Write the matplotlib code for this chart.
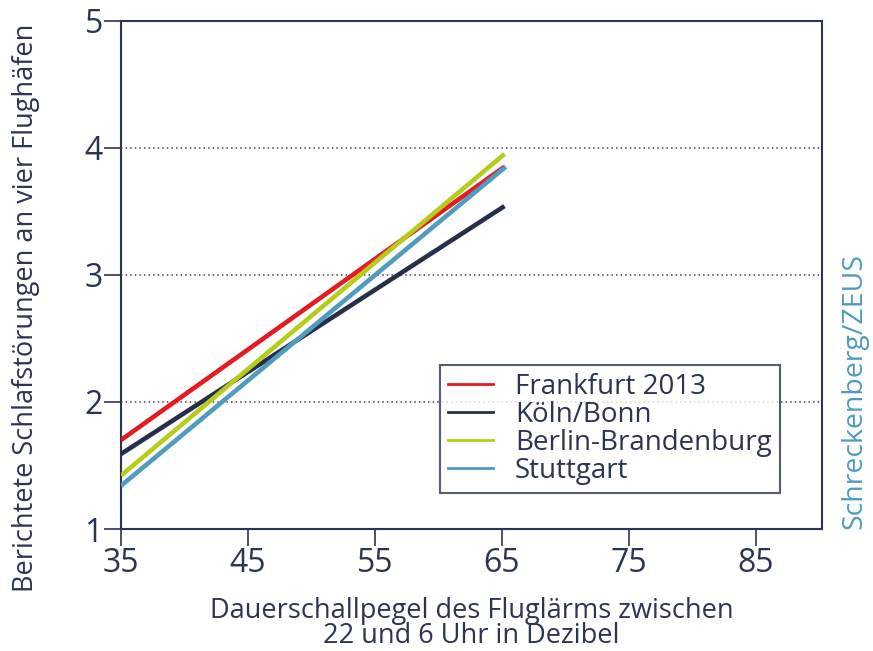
import matplotlib
matplotlib.use("Agg")
import matplotlib.pyplot as plt
from matplotlib.lines import Line2D

plt.rcParams['font.family'] = ['Open Sans', 'DejaVu Sans']

series_names = ["Frankfurt 2013", "Köln/Bonn", "Berlin-Brandenburg", "Stuttgart"]
x_start = [35, 35, 35, 35]
x_end = [65.2, 65.2, 65.2, 65.3]
y_start = [1.70, 1.59, 1.42, 1.34]
y_end = [3.85, 3.54, 3.95, 3.85]
colors = ["#e31b23", "#262e4c", "#b6cc1a", "#4f9cc0"]

x_ticks = [35, 45, 55, 65, 75, 85]
y_ticks = [1, 2, 3, 4, 5]
grid_y = [2, 3, 4]

ink = "#2b3452"

fig = plt.figure(figsize=(8.73, 6.51), dpi=100)
ax = fig.add_axes([0.1386, 0.1874, 0.9416 - 0.1386, 0.9685 - 0.1874])

for gy in grid_y:
    ax.axhline(gy, color="#444444", lw=1.1, ls=(0, (1, 2)), zorder=1)

for name, xs, xe, ys, ye, c in zip(series_names, x_start, x_end, y_start, y_end, colors):
    ax.plot([xs, xe], [ys, ye], color=c, lw=3.3, solid_capstyle='butt', zorder=3)

ax.set_xlim(35, 90.2)
ax.set_ylim(1, 5)
ax.set_xticks(x_ticks)
ax.set_yticks(y_ticks)
ax.tick_params(axis='both', direction='out', length=12, width=1.2, color=ink,
               labelsize=23, labelcolor=ink, pad=1)
for sp in ax.spines.values():
    sp.set_color(ink)
    sp.set_linewidth(1.5)

ax.set_xlabel("Dauerschallpegel des Fluglärms zwischen\n22 und 6 Uhr in Dezibel",
              fontsize=19.5, color=ink, linespacing=0.85, labelpad=12)
ax.set_ylabel("Berichtete Schlafstörungen an vier Flughäfen", fontsize=19.5, color=ink)
ax.yaxis.set_label_coords(-0.116, 0.435)

handles = [Line2D([0], [0], color=c, lw=2) for c in colors]
leg = ax.legend(handles, series_names, loc='lower left', bbox_to_anchor=(0.455, 0.07),
                fontsize=20, frameon=True, fancybox=False, handlelength=1.6,
                handletextpad=0.8, labelspacing=0.0, borderpad=0.3, borderaxespad=0)
leg.get_frame().set_edgecolor(ink)
leg.get_frame().set_linewidth(1.5)
for t in leg.get_texts():
    t.set_color(ink)

fig.text(0.979, 0.40, "Schreckenberg/ZEUS", rotation=90, color="#4f9cc0", fontsize=20.5,
         ha='center', va='center')

fig.savefig("out.png", dpi=100, facecolor="white")
